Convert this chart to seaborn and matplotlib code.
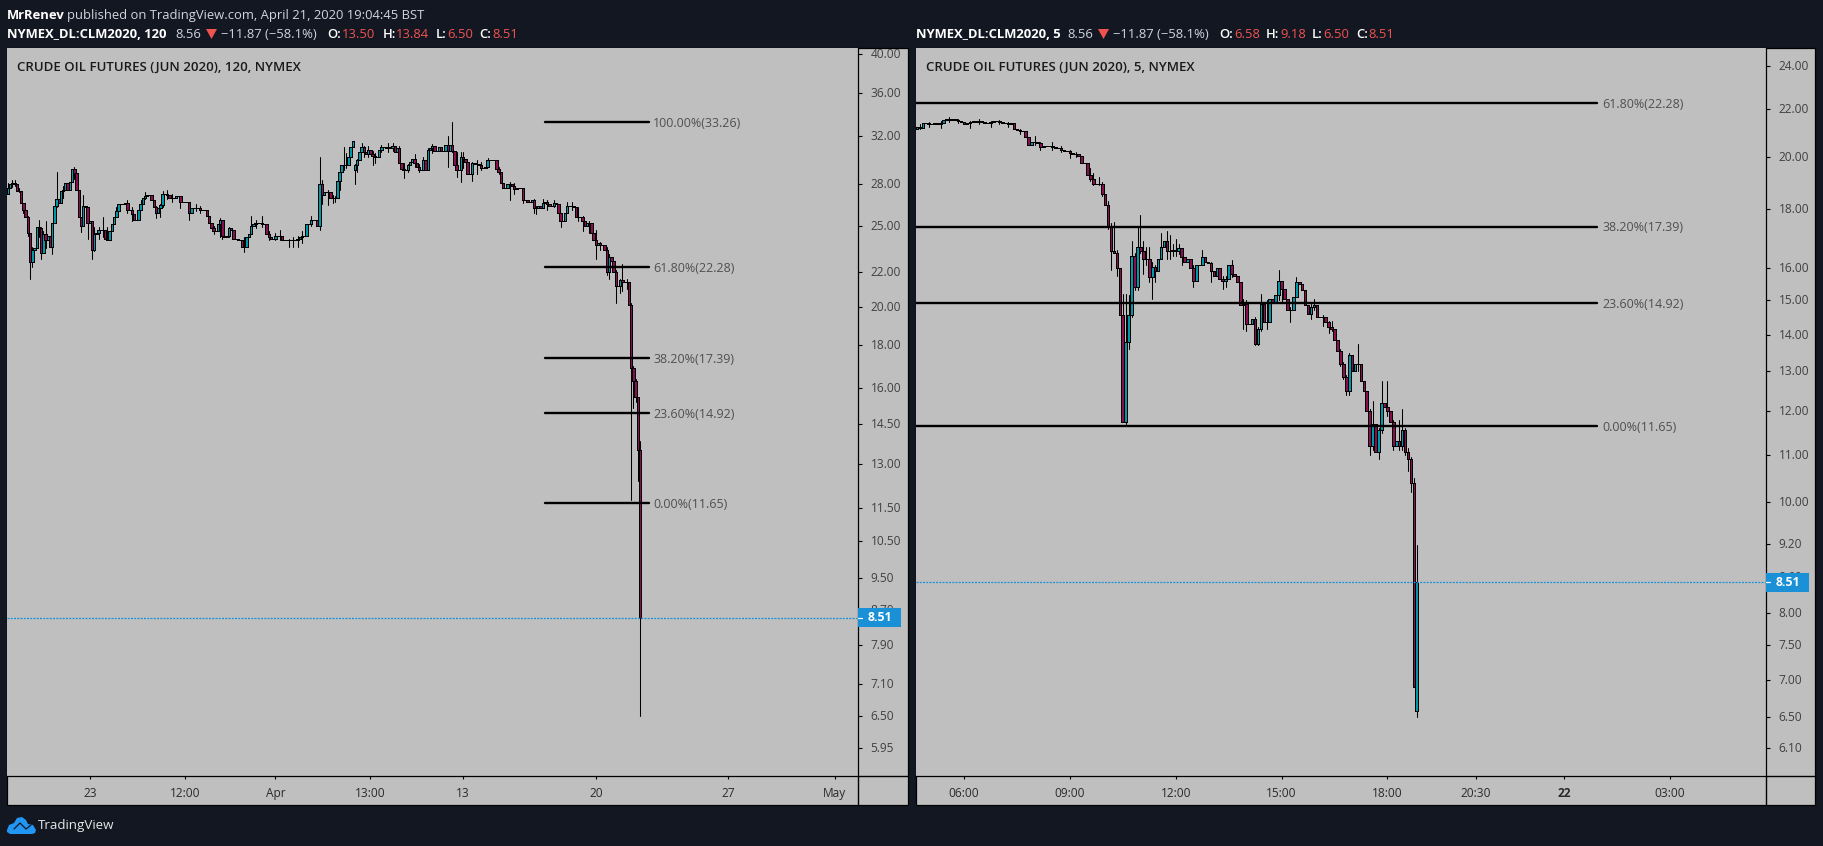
import numpy as np
import pandas as pd
import matplotlib
matplotlib.use("Agg")
import matplotlib.pyplot as plt
from matplotlib.patches import Rectangle, Polygon
from matplotlib.lines import Line2D
from matplotlib.transforms import Affine2D, ScaledTranslation
import seaborn as sns

WIDTH, HEIGHT = 1823, 846

# 120 minute candles, closes
closes_120 = [
    27.7, 28.0, 28.1, 28.0, 27.5, 27.5, 26.6, 26.1, 25.6, 24.5,
    22.6, 23.4, 23.5, 24.9, 24.8, 23.2, 24.4, 24.0, 24.3, 23.6,
    25.2, 26.4, 26.9, 26.6, 27.5, 27.6, 28.1, 27.6, 28.2, 29.2,
    28.9, 27.6, 25.6, 25.0, 26.4, 26.3, 25.2, 25.3, 23.4, 24.4,
    24.5, 24.7, 24.7, 24.7, 24.1, 24.0, 24.6, 25.1, 25.6, 26.0,
    26.5, 26.5, 26.5, 26.6, 26.1, 26.1, 25.8, 25.4, 25.4, 26.1,
    26.5, 27.0, 27.1, 27.2, 27.2, 26.8, 26.3, 25.9, 26.2, 26.45,
    27.3, 27.3, 27.2, 27.0, 27.0, 27.0, 27.1, 27.1, 26.7, 26.7,
    26.7, 26.7, 25.9, 26.2, 26.2, 26.2, 26.2, 26.1, 26.1, 26.1,
    25.7, 25.2, 24.8, 24.65, 24.65, 25.1, 25.4, 24.3, 24.25, 24.3,
    24.8, 24.7, 24.1, 24.1, 24.0, 24.0, 23.6, 23.6, 24.2, 24.4,
    25.0, 25.1, 25.2, 25.2, 25.2, 25.1, 25.1, 24.4, 24.2, 24.1,
    24.1, 24.3, 24.3, 24.3, 24.0, 24.0, 24.0, 24.0, 24.0, 24.05,
    24.0, 24.1, 24.2, 24.3, 24.3, 25.1, 25.1, 25.4, 25.4, 25.4,
    25.0, 28.05, 27.2, 27.4, 27.4, 27.4, 27.0, 27.0, 27.0, 28.25,
    29.0, 29.5, 29.5, 29.5, 30.2, 31.0, 31.5, 29.5, 29.9, 30.6,
    31.0, 30.6, 30.45, 30.8, 30.45, 30.3, 30.2, 30.2, 30.8, 31.0,
    31.0, 30.9, 31.0, 30.9, 31.1, 30.6, 30.9, 29.7, 29.2, 29.15,
    29.15, 29.5, 29.8, 30.0, 29.7, 29.4, 29.15, 29.15, 29.9, 29.15,
    30.8, 30.9, 31.1, 30.7, 30.7, 31.0, 30.7, 30.7, 31.2, 30.7,
    31.2, 30.7, 29.5, 29.15, 29.15, 30.2, 30.0, 29.8, 28.8, 28.8,
    29.7, 29.6, 29.6, 29.5, 29.3, 29.3, 29.4, 29.9, 29.9, 29.95,
    29.9, 29.2, 29.0, 28.1, 27.7, 27.7, 28.0, 28.0, 27.9, 27.65,
    27.7, 27.7, 27.7, 26.8, 26.8, 26.7, 26.7, 26.8, 26.2, 26.2,
    26.4, 26.2, 26.6, 26.7, 26.5, 26.4, 26.4, 26.6, 26.5, 25.9,
    25.3, 25.3, 25.9, 26.4, 26.4, 26.4, 26.3, 25.6, 25.6, 25.6,
    25.3, 25.0, 25.2, 25.2, 24.5, 24.0, 23.7, 23.8, 23.7, 23.7,
    23.4, 22.0, 22.9, 22.7, 22.0, 21.2, 21.2, 21.5, 21.4, 21.4,
    21.4, 20.1, 16.9, 16.3, 15.6, 13.5, 8.51,
]
first_open_120 = 27.3
gap_opens_120 = {157: 29.15, 286: 13.50}

# visible wicks on the 120 chart: bar, low, high
wicks_120 = [
    (0, 27.3, 28.1), (2, 27.8, 28.3), (3, 27.9, 28.3), (5, 27.4, 27.7), (7, 25.9, 26.6),
    (9, 24.3, 25.7), (10, 21.6, 24.5), (11, 22.3, 23.6), (14, 24.2, 25.4), (15, 22.8, 24.9),
    (16, 23.3, 24.6), (17, 23.5, 25.3), (20, 23.1, 25.2), (22, 26.3, 29.0), (25, 27.0, 27.9),
    (30, 28.4, 29.4), (33, 24.55, 25.6), (34, 25.0, 27.2), (36, 24.1, 26.3), (38, 22.8, 24.9),
    (39, 23.3, 24.9), (41, 24.1, 24.9), (43, 24.2, 25.6), (45, 24.0, 24.9), (49, 25.7, 26.3),
    (54, 25.9, 26.8), (56, 25.3, 26.3), (60, 26.2, 26.8), (62, 26.9, 27.4), (67, 25.5, 26.4),
    (69, 25.6, 26.5), (70, 26.3, 27.5), (72, 26.9, 27.6), (74, 26.7, 27.3), (78, 26.2, 27.1),
    (82, 25.4, 26.7), (85, 26.0, 26.5), (87, 25.9, 26.4), (93, 24.4, 25.0), (96, 24.2, 25.5),
    (97, 24.1, 25.4), (100, 24.2, 24.9), (107, 23.25, 24.2), (110, 24.4, 25.65), (112, 24.8, 25.4),
    (115, 24.9, 25.7), (118, 24.0, 24.6), (121, 24.0, 24.5), (123, 24.0, 24.7), (127, 23.6, 24.1),
    (129, 23.55, 24.2), (131, 23.55, 24.3), (133, 23.8, 24.6), (137, 25.0, 25.7), (141, 24.7, 30.2),
    (142, 26.5, 28.3), (145, 26.45, 27.6), (147, 26.6, 27.2), (148, 26.7, 27.1), (150, 27.6, 29.2),
    (152, 29.1, 31.0), (153, 29.3, 30.5), (157, 28.05, 29.6), (158, 29.0, 30.0), (160, 30.6, 31.35),
    (161, 30.2, 31.1), (163, 30.2, 31.1), (165, 29.5, 30.7), (166, 29.7, 30.5), (169, 30.6, 31.2),
    (172, 30.6, 31.35), (174, 30.7, 31.35), (177, 29.7, 31.1), (179, 28.5, 29.7), (181, 29.0, 29.6),
    (184, 29.4, 30.4), (186, 29.0, 29.6), (188, 29.1, 30.2), (190, 29.2, 30.9), (192, 30.5, 31.3),
    (199, 29.4, 32.0), (201, 30.6, 33.26), (203, 28.6, 30.6), (205, 28.2, 30.6), (206, 29.3, 30.6),
    (210, 28.25, 29.8), (212, 28.8, 29.9), (214, 29.1, 29.8), (217, 29.7, 30.1), (222, 28.8, 29.4),
    (227, 26.8, 28.2), (229, 27.3, 28.1), (233, 26.6, 27.7), (238, 25.9, 26.9), (239, 25.8, 26.4),
    (242, 26.2, 26.9), (244, 26.1, 26.8), (247, 26.3, 26.8), (250, 24.9, 25.9), (253, 25.9, 26.7),
    (255, 26.1, 26.7), (258, 25.3, 26.3), (260, 24.6, 25.7), (263, 24.5, 25.3), (266, 22.8, 24.7),
    (268, 23.4, 23.9), (271, 21.8, 23.6), (272, 21.6, 23.1), (275, 20.2, 22.1), (277, 20.8, 21.6),
    (278, 20.9, 22.5), (280, 21.0, 21.6), (282, 11.75, 20.2), (283, 15.15, 17.0), (284, 15.4, 16.4),
    (285, 12.4, 15.6), (286, 6.50, 13.84),
]

# 5 minute candles, closes
closes_5 = [
    21.25, 21.2, 21.4, 21.4, 21.35, 21.35, 21.4, 21.35, 21.4, 21.55,
    21.6, 21.55, 21.6, 21.55, 21.5, 21.45, 21.35, 21.4, 21.45, 21.5,
    21.45, 21.5, 21.45, 21.4, 21.4, 21.45, 21.5, 21.5, 21.45, 21.4,
    21.4, 21.35, 21.4, 21.15, 21.1, 21.05, 21.05, 20.8, 20.5, 20.6,
    20.6, 20.55, 20.4, 20.45, 20.45, 20.45, 20.4, 20.35, 20.35, 20.3,
    20.25, 20.25, 20.15, 20.1, 20.1, 20.05, 19.75, 19.75, 19.3, 19.15,
    18.95, 18.95, 18.95, 18.55, 18.15, 17.4, 16.55, 16.5, 16.0, 14.57,
    11.75, 13.8, 14.55, 16.4, 15.4, 16.7, 16.55, 16.3, 16.3, 15.7,
    16.05, 15.9, 16.3, 16.7, 16.9, 16.55, 16.55, 16.6, 16.55, 16.65,
    16.35, 16.2, 16.3, 16.0, 15.6, 16.1, 16.1, 16.35, 16.2, 16.15,
    15.9, 15.75, 16.0, 15.65, 15.6, 15.65, 16.1, 15.8, 15.75, 15.55,
    14.85, 14.9, 14.3, 14.3, 14.45, 13.75, 14.15, 14.9, 14.35, 14.35,
    15.05, 14.95, 15.15, 15.6, 15.35, 15.05, 14.7, 14.7, 15.1, 15.55,
    15.5, 15.3, 14.85, 14.6, 14.8, 14.85, 14.5, 14.5, 14.5, 14.35,
    14.2, 14.15, 13.85, 13.55, 13.2, 12.85, 12.5, 13.45, 13.0, 13.2,
    13.2, 12.75, 12.5, 12.0, 11.2, 11.7, 11.05, 11.55, 12.2, 12.1,
    12.0, 11.75, 11.2, 11.3, 11.2, 11.55, 11.05, 10.9, 10.4, 6.9,
    8.51,
]
first_open_5 = 21.15
gap_opens_5 = {170: 6.58}

wicks_5 = [
    (1, 21.15, 21.35), (4, 21.25, 21.45), (8, 21.2, 21.5), (11, 21.45, 21.65), (14, 21.4, 21.6),
    (18, 21.2, 21.5), (21, 21.35, 21.6), (25, 21.25, 21.5), (28, 21.35, 21.55), (31, 21.25, 21.45),
    (35, 20.95, 21.15), (40, 20.5, 20.85), (42, 20.3, 20.6), (46, 20.3, 20.6), (49, 20.2, 20.45),
    (52, 19.95, 20.3), (54, 20.0, 20.2), (59, 19.05, 19.55), (60, 18.9, 19.35), (62, 18.9, 19.2),
    (63, 18.5, 19.0), (65, 17.3, 18.3), (66, 15.95, 17.5), (67, 16.5, 17.55), (68, 15.75, 16.6),
    (70, 11.75, 15.2), (71, 11.7, 15.2), (72, 13.6, 15.15), (73, 14.5, 16.9), (74, 15.3, 16.5),
    (75, 15.3, 17.4), (76, 16.5, 17.8), (77, 15.8, 16.9), (78, 16.1, 16.7), (79, 15.55, 16.7),
    (80, 15.05, 16.2), (81, 15.55, 16.1), (83, 16.3, 17.15), (85, 16.3, 17.25), (86, 16.3, 17.1),
    (87, 16.4, 16.8), (88, 16.4, 16.95), (89, 16.45, 16.8), (90, 16.1, 16.6), (94, 15.4, 16.1),
    (97, 16.1, 16.6), (100, 15.55, 16.2), (104, 15.35, 15.75), (105, 15.4, 15.75), (107, 15.7, 16.25),
    (111, 14.15, 15.05), (112, 14.1, 15.0), (115, 13.7, 14.5), (116, 13.7, 14.2), (117, 14.1, 15.2),
    (119, 14.15, 15.0), (123, 15.0, 15.95), (124, 14.95, 15.6), (127, 14.35, 14.8), (129, 15.1, 15.7),
    (134, 14.45, 14.9), (135, 14.7, 15.05), (138, 14.25, 14.55), (140, 14.05, 14.4), (141, 14.1, 14.4),
    (144, 13.15, 13.6), (145, 12.8, 13.25), (146, 12.4, 12.9), (147, 12.4, 13.5), (150, 13.0, 13.75),
    (154, 11.0, 12.05), (155, 11.1, 12.25), (157, 10.9, 11.6), (158, 11.5, 12.75), (160, 11.9, 12.75),
    (162, 11.1, 11.8), (164, 11.1, 11.8), (165, 11.1, 12.05), (166, 11.0, 11.6), (167, 10.65, 11.15),
    (168, 10.2, 10.95), (169, 6.9, 10.5), (170, 6.50, 9.18),
]

# fibonacci levels drawn on both charts
fib_labels_120 = ["100.00%(33.26)", "61.80%(22.28)", "38.20%(17.39)", "23.60%(14.92)", "0.00%(11.65)"]
fib_values_120 = [33.26, 22.28, 17.39, 14.92, 11.65]
fib_labels_5 = ["61.80%(22.28)", "38.20%(17.39)", "23.60%(14.92)", "0.00%(11.65)"]
fib_values_5 = [22.28, 17.39, 14.92, 11.65]

price_ticks_120 = [40, 36, 32, 28, 25, 22, 20, 18, 16, 14.5, 13, 11.5, 10.5, 9.5, 8.7, 7.9, 7.1, 6.5, 5.95]
price_ticks_5 = [24, 22, 20, 18, 16, 15, 14, 13, 12, 11, 10, 9.2, 8.6, 8, 7.5, 7, 6.5, 6.1]
time_ticks_120 = [37, 80, 121, 164, 206, 266, 326, 374]
time_labels_120 = ["23", "12:00", "Apr", "13:00", "13", "20", "27", "May"]
time_ticks_5 = [16, 52, 88, 124, 160, 190, 220, 256]
time_labels_5 = ["06:00", "09:00", "12:00", "15:00", "18:00", "20:30", "22", "03:00"]
last_price = 8.51

BG = "#131722"
PANEL = "#bfbfbf"
UP = "#0097a7"
DOWN = "#880e4f"
BLUE = "#1a90d6"
RED = "#ef5350"
LIGHT = "#d1d4dc"
AXIS_TEXT = "#404040"

sns.set_theme(style="white")
plt.rcParams["font.family"] = ["Open Sans", "DejaVu Sans"]

fig = plt.figure(figsize=(WIDTH / 100, HEIGHT / 100), dpi=100, facecolor=BG)
# everything that sits outside the axes is placed in picture pixels
px = Affine2D().scale(1 / WIDTH, -1 / HEIGHT).translate(0, 1) + fig.transFigure


def px_text(x, y, s, **kwargs):
    kwargs.setdefault("va", "center")
    kwargs.setdefault("ha", "left")
    fig.text(x, y, s, transform=px, **kwargs)


def draw_candles(ax, closes, first_open, gap_opens, wicks, width):
    closes = np.array(closes)
    opens = np.r_[first_open, closes[:-1]]
    for bar, value in gap_opens.items():
        opens[bar] = value
    bars = np.arange(len(closes))

    wick_rows = []
    for bar, low, high in wicks:
        wick_rows.append({"bar": bar, "price": low})
        wick_rows.append({"bar": bar, "price": high})
    wick_df = pd.DataFrame(wick_rows)
    sns.lineplot(data=wick_df, x="bar", y="price", units="bar", estimator=None,
                 color="black", linewidth=0.75, legend=False, ax=ax, zorder=2)

    colors = [UP if c >= o else DOWN for o, c in zip(opens, closes)]
    ax.bar(bars, closes - opens, bottom=opens, width=width, color=colors,
           edgecolor="black", linewidth=0.7, antialiased=False, zorder=3)


def draw_panel(left, right, axis_x, closes, first_open, gap_opens, wicks, bar_px, first_bar_px, body_width,
               ylim, price_ticks, time_ticks, time_labels, fib_values, fib_labels, fib_x, fib_text_x, title):
    top, axis_y, bottom = 48, 776, 805
    fig.add_artist(Rectangle((left, top), right - left, bottom - top, transform=px,
                             facecolor=PANEL, edgecolor="black", linewidth=0.9, zorder=-5))
    fig.add_artist(Line2D([axis_x, axis_x], [axis_y, bottom], transform=px, color="black", linewidth=1))
    fig.add_artist(Line2D([axis_x, right], [axis_y, axis_y], transform=px, color="black", linewidth=1))

    ax = fig.add_axes([left / WIDTH, 1 - axis_y / HEIGHT, (axis_x - left) / WIDTH, (axis_y - top) / HEIGHT])
    ax.set_facecolor(PANEL)
    ax.set_yscale("log")
    draw_candles(ax, closes, first_open, gap_opens, wicks, body_width)

    # fib levels on top of the candles
    fib_df = pd.DataFrame([{"x": x, "price": v} for v in fib_values for x in fib_x])
    sns.lineplot(data=fib_df, x="x", y="price", units="price", estimator=None, color="black",
                 linewidth=1.7, legend=False, ax=ax, zorder=4)
    for value, label in zip(fib_values, fib_labels):
        ax.annotate(label, (fib_text_x, value), xytext=(0, -1), textcoords="offset points",
                    ha="left", va="center", fontsize=9.0, color="#505050", zorder=5)

    ax.axhline(last_price, color=BLUE, linewidth=0.9, linestyle=(0, (1.6, 1)), zorder=4)

    ax.set_xlim((left - first_bar_px) / bar_px, (axis_x - first_bar_px) / bar_px)
    ax.set_ylim(*ylim)
    ax.set_xlabel("")
    ax.set_ylabel("")
    ax.minorticks_off()
    ax.yaxis.tick_right()
    ax.set_yticks(price_ticks)
    ax.set_yticklabels([f"{t:.2f}" for t in price_ticks])
    ax.set_xticks(time_ticks)
    ax.set_xticklabels(time_labels)
    ax.tick_params(axis="y", which="both", length=3, width=0.8, color="black", pad=6,
                   labelsize=8.6, labelcolor=AXIS_TEXT, right=True, left=False)
    ax.tick_params(axis="x", length=2.5, width=0.8, color="black", pad=5.5,
                   labelsize=8.6, labelcolor="#2a2a2a", bottom=True)
    # price labels sit about a pixel above their ticks
    nudge = ScaledTranslation(0, 1 / 100, fig.dpi_scale_trans)
    for label in ax.get_yticklabels():
        label.set_transform(label.get_transform() + nudge)
    for label in ax.get_xticklabels():
        if label.get_text() == "22":
            label.set_fontweight("bold")
    for side in ("left", "top"):
        ax.spines[side].set_visible(False)
    for side in ("right", "bottom"):
        ax.spines[side].set_visible(True)
        ax.spines[side].set_color("black")
        ax.spines[side].set_linewidth(0.9)

    # last price tag over the axis
    tag_y = HEIGHT - ax.transData.transform((0, last_price))[1]
    fig.add_artist(Rectangle((axis_x, tag_y - 9.5), 43, 19, transform=px, facecolor=BLUE,
                             edgecolor="none", zorder=6))
    fig.add_artist(Line2D([axis_x, axis_x + 4], [tag_y, tag_y], transform=px, color="white",
                          linewidth=0.9, zorder=7))
    px_text(axis_x + 10, tag_y, f"{last_price:.2f}", color="white", fontsize=8.8, fontweight="bold", zorder=7)
    px_text(left + 10, 67.5, title, color="#1a1a1a", fontsize=9.5, fontweight="semibold")
    return ax


draw_panel(7, 908, 858, closes_120, first_open_120, gap_opens_120, wicks_120, 2.21, 8, 1.1,
           (5.51, 40.72), price_ticks_120, time_ticks_120, time_labels_120,
           fib_values_120, fib_labels_120, (243, 290), 292.0,
           "CRUDE OIL FUTURES (JUN 2020), 120, NYMEX")
draw_panel(916, 1815, 1766, closes_5, first_open_5, gap_opens_5, wicks_5, 2.94, 917, 0.9,
           (5.77, 24.89), price_ticks_5, time_ticks_5, time_labels_5,
           fib_values_5, fib_labels_5, (-0.3, 231.3), 233.0,
           "CRUDE OIL FUTURES (JUN 2020), 5, NYMEX")

# header lines
px_text(7, 15.2, "MrRenev", color="white", fontsize=9.4, fontweight="bold")
px_text(67, 15.2, "published on TradingView.com, April 21, 2020 19:04:45 BST", color=LIGHT, fontsize=9.4)

header_120 = [
    (7, "NYMEX_DL:CLM2020, 120", "white", "bold"), (175, "8.56", LIGHT, "normal"),
    (221, "\u221211.87 (\u221258.1%)", LIGHT, "normal"), (327, "O:", "white", "semibold"),
    (342, "13.50", RED, "normal"), (383, "H:", "white", "semibold"), (396, "13.84", RED, "normal"),
    (436, "L:", "white", "semibold"), (447, "6.50", RED, "normal"), (479, "C:", "white", "semibold"),
    (492, "8.51", RED, "normal"),
]
header_5 = [
    (916, "NYMEX_DL:CLM2020, 5", "white", "bold"), (1067, "8.56", LIGHT, "normal"),
    (1113, "\u221211.87 (\u221258.1%)", LIGHT, "normal"), (1219, "O:", "white", "semibold"),
    (1234, "6.58", RED, "normal"), (1266, "H:", "white", "semibold"), (1280, "9.18", RED, "normal"),
    (1312, "L:", "white", "semibold"), (1323, "6.50", RED, "normal"), (1356, "C:", "white", "semibold"),
    (1368, "8.51", RED, "normal"),
]
for x, s, color, weight in header_120 + header_5:
    px_text(x, 34.2, s, color=color, fontsize=9.4, fontweight=weight)
for x in (206, 1098):
    fig.add_artist(Polygon([(x, 29), (x + 11, 29), (x + 5.5, 39)], transform=px, facecolor=RED, edgecolor="none"))

# TradingView logo
logo = [(7, 830), (9, 825), (14, 823), (17, 818), (22, 817), (26, 820), (28, 824), (33, 825), (36, 830), (35, 833), (32, 834), (10, 834), (7, 832)]
fig.add_artist(Polygon(logo, transform=px, facecolor="#2196f3", edgecolor="none"))
fig.add_artist(Line2D([14, 20, 26, 31], [829, 823, 829, 825], transform=px, color=BG, linewidth=0.9))
px_text(38, 825.5, "TradingView", color="#e6e6e6", fontsize=9.6)

fig.savefig("out.png", dpi=100, facecolor=BG)
